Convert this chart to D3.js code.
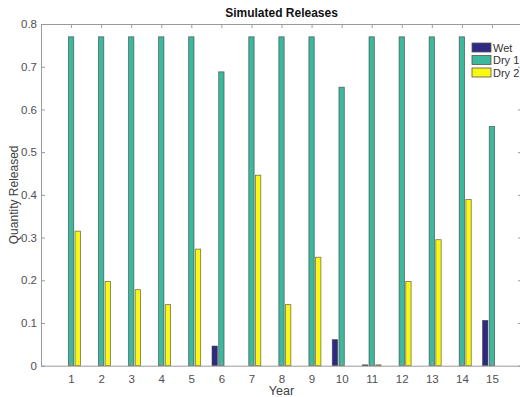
<!DOCTYPE html>
<html>
<head>
<meta charset="utf-8">
<script src="https://cdn.jsdelivr.net/npm/d3@7"></script>
<style>
  html, body { margin: 0; padding: 0; background: #fff; }
  svg { display: block; font-family: "Liberation Sans", Arial, sans-serif; }
</style>
</head>
<body>
<svg id="chart" width="520" height="397"></svg>
<script>
// Simulated releases per year for three hydrological scenarios
const years = [1, 2, 3, 4, 5, 6, 7, 8, 9, 10, 11, 12, 13, 14, 15];
const wet  = [0, 0, 0, 0, 0, 0.046, 0, 0, 0, 0.061, 0.002, 0, 0, 0, 0.106];
const dry1 = [0.77, 0.77, 0.77, 0.77, 0.77, 0.688, 0.77, 0.77, 0.77, 0.652, 0.77, 0.77, 0.77, 0.77, 0.56];
const dry2 = [0.315, 0.197, 0.178, 0.143, 0.273, 0, 0.446, 0.143, 0.254, 0, 0.002, 0.197, 0.295, 0.389, 0];
const seriesNames = ["Wet", "Dry 1", "Dry 2"];
const seriesColors = ["#2e2a82", "#3db89c", "#f8f813"];
const yTicks = [0, 0.1, 0.2, 0.3, 0.4, 0.5, 0.6, 0.7, 0.8];

const series = [wet, dry1, dry2];

const svg = d3.select("#chart");
const plotLeft = 41, plotRight = 522, plotTop = 24, plotBottom = 365.7;

const x = d3.scaleLinear().domain([0, 16]).range([plotLeft, plotRight]);
const y = d3.scaleLinear().domain([0, 0.8]).range([plotBottom, plotTop]);

// Grouped bar geometry: group spans 2/3 of a unit, each bar 80% of its slot
const slot = 2 / 3 / series.length;
const barW = slot * 0.8;

const g = svg.append("g");

series.forEach((vals, si) => {
  const offset = (si - (series.length - 1) / 2) * slot;
  g.selectAll(null)
    .data(years.map((yr, i) => ({ yr, v: vals[i] })).filter(d => d.v > 0))
    .enter()
    .append("rect")
    .attr("x", d => x(d.yr + offset - barW / 2))
    .attr("width", x(barW) - x(0))
    .attr("y", d => y(d.v))
    .attr("height", d => y(0) - y(d.v))
    .attr("fill", seriesColors[si])
    .attr("stroke", "#3a3a3a")
    .attr("stroke-opacity", 0.7)
    .attr("stroke-width", 0.8);
});

// Axes box with inward ticks
const axisColor = "#9a9a9a";
const tickLen = 4;

const bottomAxis = d3.axisBottom(x).tickValues(years).tickSize(-tickLen).tickSizeOuter(0).tickPadding(9).tickFormat(d3.format("d"));
const topAxis = d3.axisTop(x).tickValues(years).tickSize(-tickLen).tickSizeOuter(0).tickFormat("");
const leftAxis = d3.axisLeft(y).tickValues(yTicks).tickSize(-tickLen).tickSizeOuter(0).tickPadding(4).tickFormat(d => d === 0 ? "0" : d3.format(".1f")(d));
const rightAxis = d3.axisRight(y).tickValues(yTicks).tickSize(-tickLen).tickSizeOuter(0).tickFormat("");

function styleAxis(sel) {
  sel.select(".domain").attr("stroke", axisColor).attr("stroke-width", 1);
  sel.selectAll(".tick line").attr("stroke", axisColor);
  sel.selectAll(".tick text").attr("fill", "#505050").style("font-size", "11.5px").style("font-family", "Liberation Sans, Arial, sans-serif");
}

svg.append("g").attr("transform", `translate(0,${plotBottom})`).call(bottomAxis).call(styleAxis);
svg.append("g").attr("transform", `translate(0,${plotTop})`).call(topAxis).call(styleAxis);
svg.append("g").attr("transform", `translate(${plotLeft},0)`).call(leftAxis).call(styleAxis);
svg.append("g").attr("transform", `translate(${plotRight},0)`).call(rightAxis).call(styleAxis);

// Title and axis labels
svg.append("text")
  .attr("x", (plotLeft + plotRight) / 2)
  .attr("y", 17)
  .attr("text-anchor", "middle")
  .style("font-size", "12px")
  .style("font-weight", "bold")
  .attr("fill", "#111")
  .text("Simulated Releases");

svg.append("text")
  .attr("x", (plotLeft + plotRight) / 2)
  .attr("y", 395)
  .attr("text-anchor", "middle")
  .style("font-size", "12.5px")
  .attr("fill", "#404040")
  .text("Year");

svg.append("text")
  .attr("transform", `translate(18,${(plotTop + plotBottom) / 2}) rotate(-90)`)
  .attr("text-anchor", "middle")
  .style("font-size", "12px")
  .attr("fill", "#404040")
  .text("Quantity Released");

// Legend
const legend = svg.append("g").attr("transform", "translate(472,43)");
seriesNames.forEach((name, i) => {
  const row = legend.append("g").attr("transform", `translate(0,${i * 12.5})`);
  row.append("rect")
    .attr("x", 0).attr("y", 0).attr("width", 19).attr("height", 9)
    .attr("fill", seriesColors[i])
    .attr("stroke", "#555").attr("stroke-width", 0.8);
  row.append("text")
    .attr("x", 21).attr("y", 8.5)
    .style("font-size", "11px")
    .attr("fill", "#333")
    .text(name);
});
</script>
</body>
</html>
